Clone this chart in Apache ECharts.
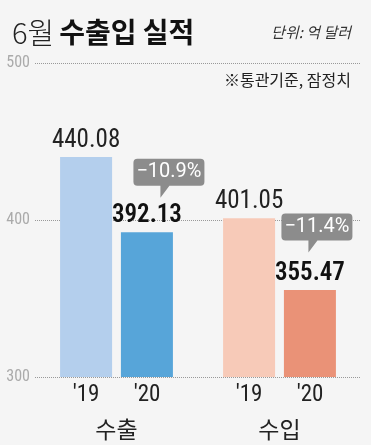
<!DOCTYPE html>
<html><head><meta charset="utf-8">
<script src="https://cdn.jsdelivr.net/npm/echarts@6/dist/echarts.min.js"></script>
<style>html,body{margin:0;padding:0;background:#f5f5f5}#c{width:371px;height:445px}</style>
</head><body><div id="c"></div>
<script>
var categories = ['수출', '수입'];
var years = ["'19", "'20"];
var values2019 = [440.08, 401.05];
var values2020 = [392.13, 355.47];
var changes = ['−10.9%', '−11.4%'];
var yTicks = [300, 400, 500];

var COND = 'Roboto,sans-serif';
var KR = '"Noto Sans CJK KR","Noto Sans",sans-serif';
var colors19 = ['#b4cfed', '#f7cab8'];
var colors20 = ['#57a5d9', '#ea9277'];
var bubbleOffsets = [[22, -54], [7, -57]];

var chart = echarts.init(document.getElementById('c'), null, {renderer: 'canvas'});
var bubblePath = 'path://M4,0 H67 Q71,0 71,4 V23 Q71,27 67,27 H36 L27,39 V27 H4 Q0,27 0,23 V4 Q0,0 4,0 Z';

chart.setOption({
  backgroundColor: '#f5f5f5',
  animation: false,
  title: [
    {text: '{a|6월} {b|수출입 실적}', left: 7, top: 13,
     textStyle: {rich: {
       a: {fontFamily: KR, fontSize: 29, fontWeight: 300, color: '#222'},
       b: {fontFamily: KR, fontSize: 28, fontWeight: 'bold', color: '#111'}
     }}},
    {text: '단위: 억 달러', right: 15, top: 20,
     textStyle: {fontFamily: KR, fontSize: 15, fontWeight: 'normal', fontStyle: 'italic', color: '#333'}},
    {text: '※통관기준, 잠정치', right: 15, top: 67,
     textStyle: {fontFamily: KR, fontSize: 16, fontWeight: 'normal', color: '#222'}}
  ],
  grid: {left: 35, right: 10, top: 63, bottom: 68},
  xAxis: {
    type: 'category', data: categories,
    axisLine: {show: false}, axisTick: {show: false},
    axisLabel: {
      interval: 0, margin: 6,
      formatter: function (v) {
        return '{y|' + years[0] + '}{y|' + years[1] + '}\n{c|' + v + '}';
      },
      rich: {
        y: {fontFamily: COND, fontWeight: 'normal condensed', fontSize: 23, color: '#222', width: 61, align: 'center', lineHeight: 24},
        c: {fontFamily: KR, fontSize: 23, color: '#222', lineHeight: 44, align: 'center'}
      }
    }
  },
  yAxis: {
    type: 'value', min: yTicks[0], max: yTicks[yTicks.length - 1], interval: 100,
    axisLine: {show: false}, axisTick: {show: false},
    axisLabel: {fontFamily: COND, fontWeight: 'normal condensed', fontSize: 16, color: '#aaa', margin: 5},
    splitLine: {lineStyle: {type: [1, 1], color: '#999', width: 1}}
  },
  series: [
    {
      name: years[0], type: 'bar', barWidth: 52, barGap: '17%',
      data: values2019.map(function (v, i) { return {value: v, itemStyle: {color: colors19[i]}}; }),
      label: {show: true, position: 'top', distance: 4, fontFamily: COND, fontSize: 25,
              color: '#222', fontWeight: 'normal condensed', formatter: function (p) { return p.value.toFixed(2); }}
    },
    {
      name: years[1], type: 'bar', barWidth: 52, barGap: '17%',
      data: values2020.map(function (v, i) { return {value: v, itemStyle: {color: colors20[i]}}; }),
      label: {show: true, position: 'top', distance: 4, fontFamily: COND, fontSize: 25,
              color: '#111', fontWeight: '600 condensed', formatter: function (p) { return p.value.toFixed(2); }},
      markPoint: {
        symbol: bubblePath, symbolSize: [71, 39], symbolKeepAspect: false,
        itemStyle: {color: '#8c8c8c'},
        label: {show: true, position: 'inside', offset: [0, -6], formatter: '{b}',
                fontFamily: COND, fontWeight: 'normal', fontSize: 20, color: '#fff'},
        data: values2020.map(function (v, i) {
          return {name: changes[i], coord: [categories[i], v], symbolOffset: bubbleOffsets[i]};
        })
      }
    }
  ]
});
</script></body></html>
